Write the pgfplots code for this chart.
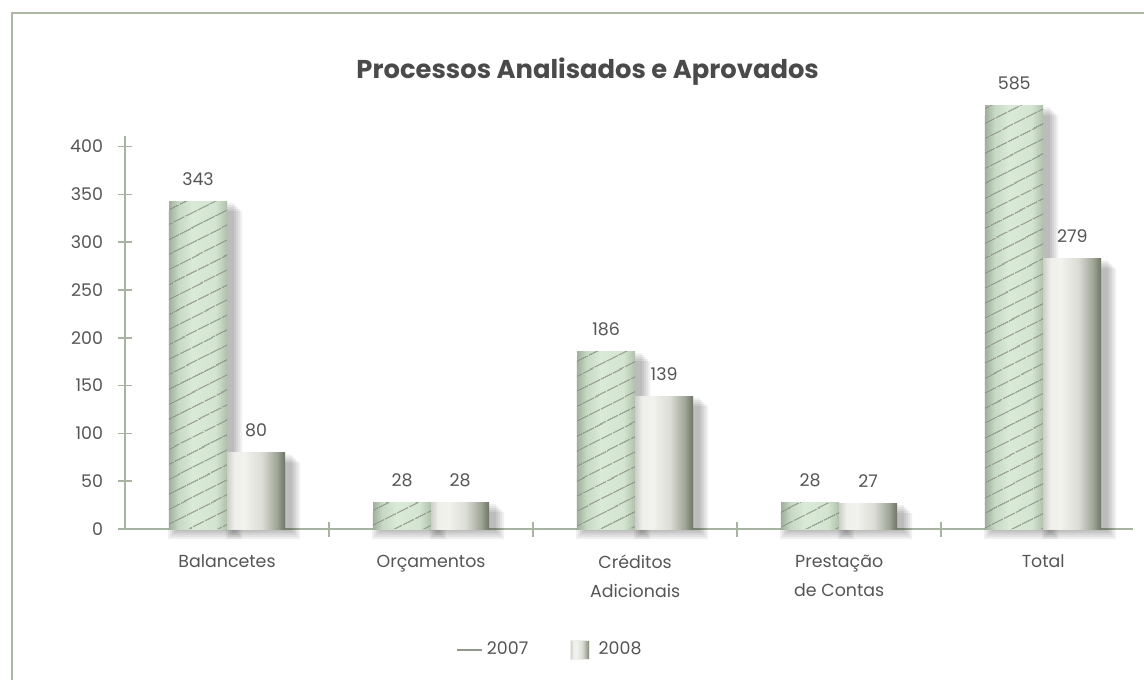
\documentclass[border=0pt]{standalone}
\usepackage{fontspec}
\setmainfont{Poppins}
\usepackage{pgfplots}
\usepackage{pgfplotstable}
\pgfplotsset{compat=1.18}
\usetikzlibrary{patterns.meta}

\definecolor{axisgreen}{HTML}{A8B4A2}
\definecolor{framegreen}{HTML}{AEB8A8}
\definecolor{txtgrey}{HTML}{555555}
\definecolor{titlegrey}{HTML}{4A4A4A}
\definecolor{hatch}{HTML}{80867B}
% 2007 bars: pale green, darker at the edges
\definecolor{ga}{HTML}{9FB09B}
\definecolor{gb}{HTML}{C6D9C3}
\definecolor{gc}{HTML}{D9EAD7}
\definecolor{gd}{HTML}{D3E5D0}
\definecolor{ge}{HTML}{AFC0AA}
% 2008 bars: silver to dark olive grey
\definecolor{sa}{HTML}{CDCFC8}
\definecolor{sb}{HTML}{EEEEEA}
\definecolor{sc}{HTML}{F2F2EE}
\definecolor{sd}{HTML}{DCDDD6}
\definecolor{se}{HTML}{9FA597}
\definecolor{sf}{HTML}{6C7463}

\pgfdeclarehorizontalshading{greenbar}{100bp}{color(0bp)=(ga); color(25bp)=(ga);
  color(33bp)=(gb); color(45bp)=(gc); color(65bp)=(gd); color(75bp)=(ge); color(100bp)=(ge)}
\pgfdeclarehorizontalshading{silverbar}{100bp}{color(0bp)=(sa); color(25bp)=(sa);
  color(31bp)=(sb); color(40bp)=(sc); color(55bp)=(sd); color(68bp)=(se); color(75bp)=(sf); color(100bp)=(sf)}

% the Total 2007 bar is cut off at the top in the original; its label keeps 585
\pgfplotstableread{
x y label
0 343 343
1 28 28
2 186 186
3 28 28
4 443 585
}\dataA
\pgfplotstableread{
x y label
0 80 80
1 28 28
2 139 139
3 27 27
4 283 279
}\dataB

\pgfplotsset{
  shadowbar/.style={draw=none, fill=black, fill opacity=0.06, forget plot},
  mainbar/.style={draw=none, forget plot, nodes near coords, point meta=explicit symbolic},
}

\begin{document}
\begin{tikzpicture}
\begin{axis}[
    name=ax,
    scale only axis,
    width=504pt, height=196.5pt,
    xmin=-0.5, xmax=4.44,
    ymin=0, ymax=411,
    clip=false,
    axis x line=bottom, axis y line=left,
    axis line style={-, draw=axisgreen, line width=0.75pt},
    ybar, bar width=29pt,
    xtick={0,1,2,3,4},
    xticklabels={Balancetes, Orçamentos, {Créditos\\Adicionais}, {Prestação\\de Contas}, Total},
    major x tick style={draw=none},
    minor xtick={0.5,1.5,2.5,3.5},
    minor x tick style={draw=axisgreen, line width=0.75pt},
    minor tick length=7.5pt,
    ytick={0,50,...,400},
    y tick style={draw=axisgreen, line width=0.75pt},
    major tick length=7pt,
    tick align=center,
    /pgf/number format/assume math mode=true,
    ticklabel style={font=\fontsize{8.7}{14.5}\selectfont, text=txtgrey},
    xticklabel style={align=center, anchor=north, yshift=-6pt},
    yticklabel style={xshift=-4pt},
    every node near coord/.append style={font=\fontsize{8.7}{10}\selectfont, text=txtgrey, anchor=base, yshift=8pt},
    legend columns=2,
    legend style={at={(0.4226,-0.308)}, anchor=center, draw=none, fill=none,
      font=\fontsize{8.7}{10}\selectfont, text=txtgrey,
      /tikz/every even column/.append style={column sep=19pt}},
  ]
  % soft shadows, behind the bars
  \addplot[shadowbar, bar width=29pt, bar shift=-11pt, yshift=-1pt] table[x=x, y=y] {\dataA};
  \addplot[shadowbar, bar width=31pt, bar shift=-11pt, yshift=-2pt] table[x=x, y=y] {\dataA};
  \addplot[shadowbar, bar width=33pt, bar shift=-11pt, yshift=-3pt] table[x=x, y=y] {\dataA};
  \addplot[shadowbar, bar width=35pt, bar shift=-11pt, yshift=-4pt] table[x=x, y=y] {\dataA};
  \addplot[shadowbar, bar width=37pt, bar shift=-11pt, yshift=-5pt] table[x=x, y=y] {\dataA};
  \addplot[shadowbar, bar width=29pt, bar shift=18pt, yshift=-1pt] table[x=x, y=y] {\dataB};
  \addplot[shadowbar, bar width=31pt, bar shift=18pt, yshift=-2pt] table[x=x, y=y] {\dataB};
  \addplot[shadowbar, bar width=33pt, bar shift=18pt, yshift=-3pt] table[x=x, y=y] {\dataB};
  \addplot[shadowbar, bar width=35pt, bar shift=18pt, yshift=-4pt] table[x=x, y=y] {\dataB};
  \addplot[shadowbar, bar width=37pt, bar shift=18pt, yshift=-5pt] table[x=x, y=y] {\dataB};
  % 2007, one plot per bar so that each bar gets its own shading
  \pgfplotsinvokeforeach{0,...,4}{
    \addplot[mainbar, bar shift=-14.5pt, shading=greenbar, restrict x to domain=#1:#1]
      table[x=x, y=y, meta=label] {\dataA};
  }
  \addplot[draw=none, fill=none, forget plot, bar shift=-14.5pt,
      pattern={Lines[angle=27, distance=6.5pt, line width=0.6pt]}, pattern color=hatch]
    table[x=x, y=y] {\dataA};
  % 2008
  \pgfplotsinvokeforeach{0,...,4}{
    \addplot[mainbar, bar shift=14.5pt, shading=silverbar, restrict x to domain=#1:#1]
      table[x=x, y=y, meta=label] {\dataB};
  }
  \addlegendimage{legend image code/.code={\draw[draw=axisgreen!85!black, line width=0.75pt] (0pt,0pt) -- (12.5pt,0pt);}}
  \addlegendimage{legend image code/.code={\draw[draw=white!85!gray, shading=silverbar] (0pt,-4.75pt) rectangle (9.5pt,4.75pt); \path[draw=none, fill=none] (9.5pt,0pt) -- (12pt,0pt);}}
  \legend{2007, 2008}
  \node[font=\bfseries\fontsize{12.9}{15}\selectfont, text=titlegrey] at (rel axis cs:0.459,1.163) {Processos Analisados e Aprovados};
\end{axis}
\draw[framegreen, line width=0.75pt] (ax.south west) ++(-56.5pt,-75.5pt) -- ++(0pt,333.5pt) -- ++(566pt,0pt);
\pgfresetboundingbox
\path[use as bounding box] (ax.south west) ++(-62.5pt,-75.5pt) rectangle ++(572pt,340pt);
\end{tikzpicture}
\end{document}
